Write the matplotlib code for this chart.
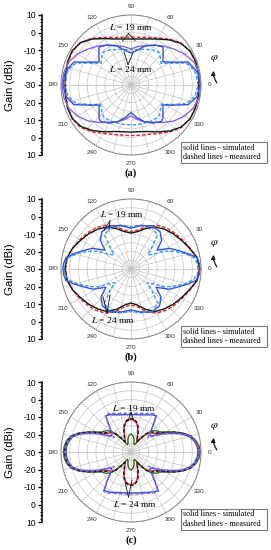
import numpy as np
import matplotlib
matplotlib.use('Agg')
import matplotlib.pyplot as plt
from matplotlib.patches import Rectangle, FancyArrowPatch
from matplotlib.lines import Line2D
from matplotlib.ticker import MultipleLocator

plt.rcParams['font.family'] = ['Liberation Sans', 'DejaVu Sans']
plt.rcParams['mathtext.fontset'] = 'stix'

# ---------------- data ----------------
ANG10 = list(range(0, 370, 10))
ANG5 = list(range(0, 365, 5))

GRID_ANGLES = list(range(0, 360, 15))
LABEL_ANGLES = list(range(0, 360, 30))
RING_VALUES = [-25, -20, -15, -10, -5, 0, 5]
GAIN_TICK_POS = [-40, -30, -20, -10, 0, 10, 20, 30, 40]
GAIN_TICK_LABELS = ['10', '0', '-10', '-20', '-30', '-20', '-10', '0', '10']

# panel (a)
a_black = [8.9, 9.1, 9.4, 8.9, 7.1, 3.7, 0.3, -2.0, -3.3, -3.7, -3.3, -2.0, 0.6, 4.3, 7.7, 8.9, 8.6, 8.0,
           7.7, 8.0, 8.6, 8.6, 7.1, 4.0, 0.9, -1.7, -2.9, -3.1, -2.9, -1.7, 0.9, 4.3, 7.4, 8.9, 9.1, 9.1, 8.9]
a_red = [8.6, 8.9, 9.1, 8.9, 7.4, 4.3, 1.1, -1.1, -2.3, -2.6, -2.3, -1.1, 1.4, 4.9, 7.7, 8.6, 8.3, 7.7,
         7.4, 7.7, 8.3, 8.6, 7.7, 4.9, 2.0, 0.0, -0.9, -1.1, -0.9, 0.0, 2.0, 4.9, 7.7, 8.9, 8.9, 8.9, 8.6]
a_purple = [10.0, 9.7, 8.3, 5.4, 2.0, -0.9, -3.7, -6.0, -7.7, -9.4, -7.7, -6.0, -3.7, -0.9, 2.0, 5.4, 8.0, 9.1,
            9.4, 9.1, 8.0, 5.4, 2.0, -2.0, -5.4, -7.7, -10.0, -12.3, -10.0, -7.7, -5.4, -2.0, 2.0, 5.4, 8.0, 9.7, 10.0]
a_step_ang = [0, 10, 16, 22, 25, 29, 36, 43, 50, 59, 70, 79, 90, 101, 110, 121, 130, 137, 144, 151, 155, 158, 164,
              170, 180, 190, 199, 202, 207, 212, 219, 226, 230, 240, 250, 260, 270, 280, 290, 300, 310, 314, 321,
              328, 333, 338, 341, 350, 360]
a_blue = [9.4, 8.9, 6.9, 5.1, 0.9, -3.1, -7.5, -4.9, -1.6, -3.4, -6.3, -9.6, -11.7, -9.6, -6.3, -3.4, -1.6, -4.9,
          -7.5, -3.1, 0.9, 5.1, 6.9, 8.3, 8.9, 7.7, 4.5, 0.3, -4.5, -8.5, -6.5, -3.7, -2.9, -4.9, -7.7, -11.1,
          -14.3, -11.1, -7.7, -4.9, -2.9, -3.7, -6.5, -8.5, -4.5, 0.3, 4.5, 8.3, 9.4]
a_cyan = [8.3, 7.7, 6.0, 3.7, -0.3, -4.3, -8.9, -7.1, -5.4, -6.6, -8.3, -9.4, -9.7, -9.4, -8.3, -6.6, -5.4, -7.1,
          -8.9, -4.3, -0.3, 3.7, 6.0, 7.4, 7.7, 6.6, 3.1, -0.9, -5.4, -9.4, -8.3, -6.6, -6.0, -6.3, -6.9, -7.1,
          -7.1, -7.1, -6.9, -6.3, -6.0, -6.6, -8.3, -9.4, -5.4, -0.9, 3.1, 7.1, 8.3]

# panel (b)
b_black = [9.4, 8.3, 5.4, 3.1, 1.4, -0.3, -2.3, -5.4, -8.3, -9.4, -8.3, -5.4, -2.3, -0.3, 1.4, 3.1, 5.4, 7.1,
           7.7, 7.1, 5.4, 3.1, 1.4, -0.3, -2.0, -5.4, -9.1, -10.6, -9.1, -5.4, -2.0, -0.3, 1.4, 3.1, 5.4, 8.3, 9.4]
b_red = [8.9, 8.0, 5.7, 3.7, 2.3, 0.9, -1.1, -4.3, -7.4, -8.6, -7.4, -4.3, -1.1, 0.9, 2.3, 3.7, 5.4, 6.9,
         7.4, 6.9, 5.4, 3.7, 2.3, 0.9, -0.9, -4.0, -8.0, -9.4, -8.0, -4.0, -0.9, 0.9, 2.3, 3.7, 5.7, 8.0, 8.9]
b_blue_ang = [0, 5, 10, 16, 22, 28, 36, 43, 52, 64, 78, 90, 102, 116, 128, 137, 144, 152, 158, 164, 170, 175,
              180, 185, 190, 196, 202, 208, 216, 223, 232, 244, 258, 270, 282, 296, 308, 317, 324, 332, 338,
              344, 350, 355, 360]
b_blue = [9.4, 9.1, 8.2, 3.0, -1.4, -4.9, -11.7, -6.0, -3.0, -2.6, -4.7, -6.7, -4.7, -2.6, -3.0, -6.0, -11.7,
          -4.9, -1.4, 3.0, 7.7, 8.6, 8.9, 8.6, 7.7, 2.6, -2.0, -5.4, -12.3, -6.6, -3.4, -2.6, -4.9, -6.6, -4.9,
          -2.6, -3.4, -6.6, -12.3, -5.4, -2.0, 2.6, 7.7, 9.1, 9.4]
b_cyan_ang = [0, 5, 10, 16, 22, 28, 34, 40, 46, 52, 64, 78, 90, 102, 116, 128, 134, 140, 146, 152, 158, 164,
              170, 175, 180, 185, 190, 196, 202, 208, 214, 220, 226, 232, 244, 258, 270, 282, 296, 308, 314,
              320, 326, 332, 338, 344, 350, 355, 360]
b_cyan = [8.3, 8.0, 6.6, 2.0, -3.1, -8.3, -15.1, -17.4, -12.9, -5.4, -3.1, -4.3, -6.0, -4.3, -3.1, -5.4,
          -12.9, -17.4, -15.1, -8.3, -3.1, 2.0, 6.6, 8.0, 8.3, 7.7, 6.0, 1.4, -3.7, -8.3, -14.6, -18.0, -12.9,
          -4.9, -2.9, -4.3, -6.0, -4.3, -2.9, -4.9, -12.9, -18.0, -14.6, -8.3, -3.7, 1.4, 6.0, 8.0, 8.3]

# panel (c)
c_red = [8.9, 8.3, 7.1, 4.9, 0.9, -3.7, -8.3, -11.7, -13.4, -14.3, -16.9, -20.9, -23.7, -22.0, -18.6, -15.1,
         -12.9, -11.7, -11.4, -11.7, -12.9, -15.1, -18.6, -22.0, -23.7, -20.9, -16.9, -14.3, -13.4, -11.7, -8.3,
         -3.7, 0.9, 4.9, 6.6, 7.4, 7.7,
         7.4, 6.6, 4.9, 0.9, -3.7, -8.3, -11.7, -13.4, -14.3, -16.9, -20.9, -23.7, -22.0, -18.6, -15.1, -12.9,
         -11.7, -11.4, -11.7, -12.9, -15.1, -18.6, -22.0, -23.7, -20.9, -16.9, -14.3, -13.4, -11.7, -8.3, -3.7,
         0.9, 4.9, 7.1, 8.3, 8.9]
c_black = [8.6, 8.0, 7.1, 5.1, 1.4, -3.1, -7.7, -11.1, -12.6, -13.7, -16.3, -20.3, -23.1, -21.4, -18.0, -14.6,
           -12.3, -11.1, -10.9, -11.1, -12.3, -14.6, -18.0, -21.4, -23.1, -20.3, -16.3, -13.7, -12.6, -11.1, -7.7,
           -3.1, 1.4, 5.1, 6.9, 7.7, 8.0,
           7.7, 6.9, 5.1, 1.4, -3.1, -7.7, -11.1, -12.6, -13.7, -16.3, -20.3, -23.1, -21.4, -18.0, -14.6, -12.3,
           -11.1, -10.9, -11.1, -12.3, -14.6, -18.0, -21.4, -23.1, -20.3, -16.3, -13.7, -12.6, -11.1, -7.7, -3.1,
           1.4, 5.1, 7.1, 8.0, 8.6]
c_green = [9.7, 9.1, 7.7, 5.4, 1.7, -2.9, -7.1, -10.0, -11.1, -12.9, -16.3, -20.9, -24.3, -25.4, -24.9, -23.1,
           -21.4, -20.3, -19.7, -20.3, -21.4, -23.1, -24.9, -25.4, -24.3, -20.9, -16.3, -12.9, -11.1, -10.0, -7.1,
           -2.9, 1.7, 5.4, 7.4, 8.3, 8.6,
           8.3, 7.4, 5.4, 1.7, -2.9, -7.1, -10.0, -11.1, -12.9, -16.3, -20.9, -24.3, -25.4, -24.9, -23.1, -21.4,
           -20.3, -19.7, -20.3, -21.4, -23.1, -24.9, -25.4, -24.3, -20.9, -16.3, -12.9, -11.1, -10.0, -7.1, -2.9,
           1.7, 5.4, 7.7, 9.1, 9.7]
c_blue = [8.3, 7.9, 6.6, 4.3, 0.3, -4.9, -9.4, -13.4, -15.7, -14.6, -10.6, -4.9, -5.4, -6.6, -7.4, -8.0, -8.4,
          -8.6, -8.7, -8.6, -8.4, -8.0, -7.4, -6.6, -5.4, -4.9, -10.6, -14.6, -15.7, -13.4, -9.4, -4.9, 0.3,
          4.3, 6.0, 6.9, 7.1,
          6.9, 6.0, 4.3, 0.3, -4.9, -9.4, -13.4, -15.7, -14.0, -9.4, -3.1, -3.7, -4.6, -5.4, -6.0, -6.3, -6.5,
          -6.6, -6.5, -6.3, -6.0, -5.4, -4.6, -3.7, -3.1, -9.4, -14.0, -15.7, -13.4, -9.4, -4.9, 0.3, 4.3, 6.6,
          7.9, 8.3]
c_purple = [8.6, 8.3, 7.1, 4.9, 0.9, -4.3, -9.1, -14.0, -17.4, -15.4, -10.0, -4.3, -4.6, -5.7, -6.6, -7.2, -7.6,
            -7.8, -7.9, -7.8, -7.6, -7.2, -6.6, -5.7, -4.6, -4.3, -10.0, -15.4, -17.4, -14.0, -9.1, -4.3, 0.9,
            4.9, 6.6, 7.4, 7.7,
            7.4, 6.6, 4.9, 0.9, -4.3, -9.1, -14.0, -17.4, -13.4, -8.6, -2.6, -3.1, -4.0, -4.8, -5.4, -5.7, -5.9,
            -6.0, -5.9, -5.7, -5.4, -4.8, -4.0, -3.1, -2.6, -8.6, -13.4, -17.4, -14.0, -9.1, -4.3, 0.9, 4.9, 7.1,
            8.3, 8.6]

PANEL_LETTERS = ['(a)', '(b)', '(c)']
L_TEXT = ['$L$ = 19 mm', '$L$ = 24 mm']

# ---------------- styles ----------------
BLACK, RED, GREEN = '#151515', '#e3262b', '#3d6b2a'
PURPLE, BLUE, CYAN = '#8c62e0', '#3454d6', '#3a9ae6'
DASH = (0, (2.6, 1.4))

panels = [
    [(ANG10, a_red, RED, DASH), (ANG10, a_black, BLACK, '-'), (ANG10, a_purple, PURPLE, '-'),
     (a_step_ang, a_cyan, CYAN, DASH), (a_step_ang, a_blue, BLUE, '-')],
    [(ANG10, b_red, RED, DASH), (ANG10, b_black, BLACK, '-'),
     (b_cyan_ang, b_cyan, CYAN, DASH), (b_blue_ang, b_blue, BLUE, '-')],
    [(ANG5, c_red, RED, '-'), (ANG5, c_green, GREEN, '-'), (ANG5, c_black, BLACK, DASH),
     (ANG5, c_blue, BLUE, '-'), (ANG5, c_purple, PURPLE, DASH)],
]

W, H = 271, 550
CX, R = 131, 70
CENTERS = [85, 269, 452]
PX_PER_DB = R / 40.0

fig = plt.figure(figsize=(W / 100, H / 100), dpi=100)


def F(x, y):
    return (x / W, 1 - y / H)


L19_POS = [(131, 27), (122, 214), (134, 408)]
L24_POS = [(131, 69), (113, 320), (135, 504)]
L19_LINES = [((128.5, 33.5), [(122.5, 41), (135, 40.5)]),
             ((110, 221), [(104, 230), (109, 230)]),
             ((131, 412.5), [(128, 421), (134, 421)])]
L24_LINES = [((128, 64.5), [(124, 52), (133, 53)]),
             ((107, 313), [(103, 297), (110, 295)]),
             ((128.5, 497), [(125, 482), (132, 480)])]

serif = ['Liberation Serif', 'DejaVu Serif']

for i, cy in enumerate(CENTERS):
    # gain axis
    gax = fig.add_axes([41.7 / W, (H - cy - R) / H, 0.02, 2 * R / H])
    gax.set_ylim(-40, 40)
    for s in ['top', 'right', 'bottom']:
        gax.spines[s].set_visible(False)
    gax.spines['left'].set_linewidth(1.1)
    gax.set_xticks([])
    gax.set_yticks(GAIN_TICK_POS)
    gax.set_yticklabels(GAIN_TICK_LABELS, fontsize=6.2)
    gax.yaxis.set_minor_locator(MultipleLocator(2))
    gax.tick_params(axis='y', which='major', direction='out', length=3, width=1.0, pad=1.2)
    gax.tick_params(axis='y', which='minor', direction='out', length=1.8, width=0.8)
    gax.patch.set_visible(False)
    fig.text(10 / W, 1 - cy / H, 'Gain (dBi)', rotation=90, ha='center', va='center', fontsize=8.2)

    # polar axis
    ax = fig.add_axes([(CX - R) / W, (H - cy - R) / H, 2 * R / W, 2 * R / H], projection='polar')
    ax.set_ylim(-30, 10)
    ax.set_xticks(np.deg2rad(GRID_ANGLES))
    ax.set_xticklabels([])
    ax.set_yticks(RING_VALUES)
    ax.set_yticklabels([])
    ax.grid(True, color='#c4c4c4', lw=0.5)
    ax.spines['polar'].set_color('#8a8a8a')
    ax.spines['polar'].set_linewidth(0.8)
    ax.patch.set_facecolor('white')
    for ang, gains, col, ls in panels[i]:
        ax.plot(np.deg2rad(ang), gains, color=col, ls=ls, lw=1.0)
    for a in LABEL_ANGLES:
        ax.text(np.deg2rad(a), 10 + 8.5 / PX_PER_DB, str(a), ha='center', va='center',
                fontsize=4.6, color='#333333', clip_on=False)

    # L labels
    for pos, txt in zip([L19_POS[i], L24_POS[i]], L_TEXT):
        fig.text(*F(*pos), txt, ha='center', va='center', fontsize=6.8, family=serif)
    for apex, ends in [L19_LINES[i], L24_LINES[i]]:
        for e in ends:
            fig.add_artist(Line2D([apex[0] / W, e[0] / W], [1 - apex[1] / H, 1 - e[1] / H],
                                  color='#111111', lw=0.6, transform=fig.transFigure))

    # phi arrow
    fig.text(*F(214, cy - 26), r'$\varphi$', ha='center', va='center', fontsize=8)
    arr = FancyArrowPatch(F(218.5, cy + 0), F(214, cy - 17), transform=fig.transFigure,
                          connectionstyle='arc3,rad=-0.25', arrowstyle='-|>', mutation_scale=6,
                          lw=0.9, color='#111111')
    fig.add_artist(arr)

    # legend box
    off = cy - CENTERS[0]
    x0, y0, x1, y1 = 180.5, 142 + off, 266.5, 163 + off
    fig.add_artist(Rectangle(F(x0, y1), (x1 - x0) / W, (y1 - y0) / H, transform=fig.transFigure,
                             facecolor='white', edgecolor='#777777', lw=0.8))
    fig.text(*F(183, 147.5 + off), 'solid lines - simulated', ha='left', va='center', fontsize=5.9,
             family=serif)
    fig.text(*F(183, 157 + off), 'dashed lines - measured', ha='left', va='center', fontsize=5.9,
             family=serif)

    # panel letter
    fig.text(*F(131, 173 + off), PANEL_LETTERS[i], ha='center', va='center', fontsize=7.5,
             fontweight='bold', family=serif)

fig.savefig('out.png', dpi=100)
